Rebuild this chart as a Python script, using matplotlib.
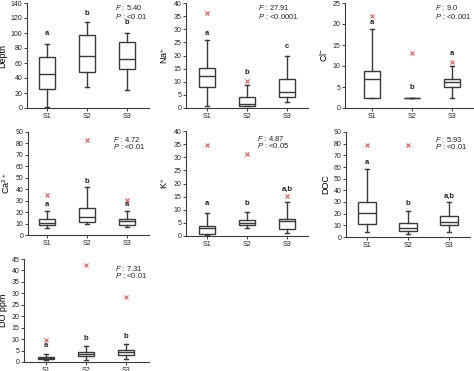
import matplotlib
matplotlib.use("Agg")
import matplotlib.pyplot as plt

plt.rcParams['font.family'] = ['Liberation Sans', 'DejaVu Sans']
plt.rcParams['mathtext.fontset'] = 'custom'
plt.rcParams['mathtext.rm'] = 'Liberation Sans'
plt.rcParams['mathtext.it'] = 'Liberation Sans:italic'

sites = ['S1', 'S2', 'S3']

# per panel: [whislo, q1, med, q3, whishi] for S1, S2, S3
depth_box = [[2, 26, 45.5, 68, 85], [28, 48, 69, 97, 115], [23.5, 52, 66, 88, 100]]
depth_out = [[], [], []]
depth_let = [(99, 'a'), (126, 'b'), (114, 'b')]

na_box = [[0.9, 8.0, 12.1, 15.1, 25.9], [0.6, 0.9, 1.7, 4.1, 8.6], [2.2, 4.1, 6.0, 10.9, 20.0]]
na_out = [[36.2], [10.2], []]
na_let = [(28.4, 'a'), (13.7, 'b'), (23.3, 'c')]

cl_box = [[2.5, 2.5, 6.9, 8.9, 18.7], [2.5, 2.5, 2.5, 2.5, 2.5], [2.5, 5.0, 6.3, 6.9, 9.9]]
cl_out = [[22.0], [13.0], [11.0]]
cl_let = [(20.3, 'a'), (4.9, 'b'), (13.0, 'a')]

ca_box = [[5.8, 9.0, 10.2, 13.6, 21.2], [9.6, 11.6, 16.0, 23.8, 42.0], [6.7, 8.7, 12.2, 13.6, 21.2]]
ca_out = [[35.1], [82.7], [30.2]]
ca_let = [(26.7, 'a'), (47.0, 'b'), (26.4, 'a')]

k_box = [[0.25, 0.6, 3.2, 3.8, 8.8], [3.2, 4.3, 5.0, 6.2, 9.1], [1.1, 2.5, 5.7, 6.5, 12.8]]
k_out = [[34.7], [31.1], [15.4]]
k_let = [(12.3, 'a'), (12.3, 'b'), (17.7, 'a,b')]

doc_box = [[4.0, 11.1, 20.3, 30.3, 58.3], [2.6, 5.4, 7.7, 12.0, 22.6], [4.6, 10.6, 13.1, 18.0, 30.0]]
doc_out = [[79.0], [78.6], []]
doc_let = [(64.0, 'a'), (28.9, 'b'), (35.0, 'a,b')]

do_box = [[0.7, 1.2, 1.6, 2.2, 3.5], [1.0, 2.5, 3.6, 4.5, 6.8], [1.3, 3.2, 4.2, 5.1, 7.8]]
do_out = [[9.4], [42.5], [28.5]]
do_let = [(7.1, 'a'), (10.2, 'b'), (11.2, 'b')]

ylabels = ['Depth', 'Na$^{+}$', 'Cl$^{-}$', 'Ca$^{2+}$', 'K$^{+}$', 'DOC', 'DO ppm']
f_vals = ['5.40', '27.91', '9.0', '4.72', '4.87', '5.93', '7.31']
p_vals = ['<0.01', '<0.0001', '<0.001', '<0.01', '<0.05', '<0.01', '<0.01']
ylims = [140, 40, 25, 90, 40, 90, 45]
ysteps = [20, 5, 5, 10, 5, 10, 5]

boxes = [depth_box, na_box, cl_box, ca_box, k_box, doc_box, do_box]
outs = [depth_out, na_out, cl_out, ca_out, k_out, doc_out, do_out]
lets = [depth_let, na_let, cl_let, ca_let, k_let, doc_let, do_let]

W, H = 474, 371
# axes rectangles in pixels: left, top(y of ymax), bottom(y of 0), right, x of S1
rects = [(27, 3, 108, 149, 47), (186, 3, 108, 308, 207), (345, 3, 108, 474, 372),
         (28, 132, 235, 149, 47), (186, 131, 236, 308, 207), (346, 132, 237, 470, 367),
         (24, 259, 362, 149, 46)]
# F/P annotation: x (axes fraction, left edge), y of F line, y of P line
stat_pos = [(0.72, 0.96, 0.875), (0.59, 0.96, 0.875), (0.70, 0.96, 0.875),
            (0.70, 0.93, 0.86), (0.58, 0.93, 0.86), (0.72, 0.93, 0.86),
            (0.73, 0.91, 0.84)]

fig = plt.figure(figsize=(W / 100, H / 100), dpi=100)
dark = '#3a3a3a'

for i in range(7):
    l, t, b, r, s1 = rects[i]
    ax = fig.add_axes([l / W, 1 - b / H, (r - l) / W, (b - t) / H])
    stats = []
    for j in range(3):
        lo, q1, med, q3, hi = boxes[i][j]
        stats.append(dict(whislo=lo, q1=q1, med=med, q3=q3, whishi=hi, fliers=[]))
    ax.bxp(stats, positions=[1, 2, 3], widths=0.42, showfliers=False, patch_artist=True,
           boxprops=dict(facecolor='white', edgecolor=dark, linewidth=1.0),
           medianprops=dict(color=dark, linewidth=1.0),
           whiskerprops=dict(color=dark, linewidth=1.0),
           capprops=dict(color=dark, linewidth=1.0), capwidths=0.1)
    for j in range(3):
        if outs[i][j]:
            ax.plot([j + 1] * len(outs[i][j]), outs[i][j], 'x', color='#e8413c',
                    markersize=2.6, markeredgewidth=0.7)
        yv, txt = lets[i][j]
        ax.text(j + 1, yv, txt, ha='center', va='center', fontsize=5.5, fontweight='bold', color='#222222')
    step_px = 40 if i != 5 else 41
    x0 = 1 - (s1 - l) / step_px
    x1 = x0 + (r - l) / step_px
    ax.set_xlim(x0, x1)
    ax.set_ylim(0, ylims[i])
    ax.set_yticks(range(0, ylims[i] + 1, ysteps[i]))
    ax.set_xticks([1, 2, 3])
    ax.set_xticklabels(sites)
    ax.tick_params(labelsize=5, length=2, width=0.6, pad=1.5, colors='#222222')
    for sp in ['top', 'right']:
        ax.spines[sp].set_visible(False)
    for sp in ['left', 'bottom']:
        ax.spines[sp].set_linewidth(0.8)
        ax.spines[sp].set_color(dark)
    ax.set_ylabel(ylabels[i], fontsize=6.5, labelpad=2)
    sx, fy, py = stat_pos[i]
    fv = r'$\mathit{' + f_vals[i] + '}$' if i == 0 else f_vals[i]
    ax.text(sx, fy, r'$F$ : ' + fv, transform=ax.transAxes, ha='left', va='center',
            fontsize=5.5, color='#222222')
    ax.text(sx, py, r'$P$ : ' + p_vals[i], transform=ax.transAxes, ha='left', va='center',
            fontsize=5.5, color='#222222')

fig.savefig('out.png', dpi=100)
